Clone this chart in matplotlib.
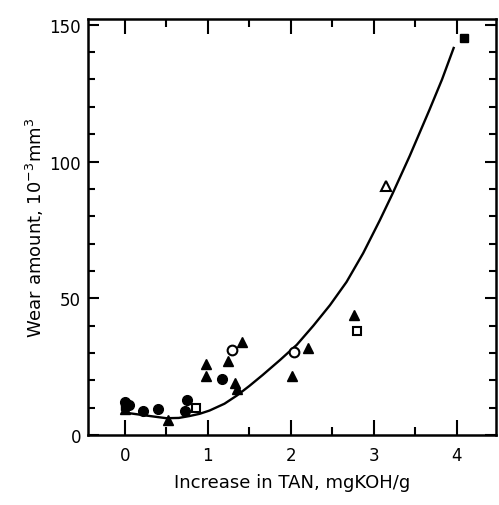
import matplotlib
matplotlib.use("Agg")
import matplotlib.pyplot as plt
from matplotlib.ticker import MultipleLocator

# data (x = increase in TAN, y = wear amount)
filled_circle_x = [0.0, 0.05, 0.22, 0.40, 0.72, 0.75, 1.17]
filled_circle_y = [12.0, 11.0, 9.0, 9.5, 9.0, 13.0, 20.5]

filled_tri_x = [0.0, 0.52, 0.98, 0.98, 1.24, 1.41, 1.33, 1.35, 2.01, 2.20, 2.76]
filled_tri_y = [9.5, 5.5, 26.0, 21.5, 27.0, 34.0, 19.0, 17.0, 21.5, 31.7, 44.0]

open_circle_x = [1.29, 2.04]
open_circle_y = [31.0, 30.5]

open_square_x = [0.86, 2.80]
open_square_y = [10.0, 38.0]

open_tri_x = [3.15]
open_tri_y = [91.0]

filled_square_x = [0.0, 4.08]
filled_square_y = [10.5, 145.0]

# fitted curve
curve_x = [0.06, 0.30, 0.50, 0.65, 0.78, 0.90, 1.02, 1.20, 1.35, 1.50, 1.66,
           1.87, 2.07, 2.27, 2.47, 2.67, 2.87, 3.07, 3.22, 3.43, 3.67, 3.82, 3.96]
curve_y = [8.0, 7.0, 6.2, 6.3, 7.0, 7.8, 9.0, 11.5, 14.5, 18.0, 22.0,
           27.5, 33.0, 40.0, 47.5, 56.0, 66.5, 78.5, 88.0, 102.0, 119.0, 130.0, 141.5]

fig = plt.figure(figsize=(4.99, 5.06), dpi=100)
ax = fig.add_axes([0.176, 0.138, 0.818, 0.822])

ax.plot(curve_x, curve_y, color='black', lw=1.7)

ms = 7
ax.plot(filled_circle_x, filled_circle_y, 'o', color='black', ms=ms)
ax.plot(filled_tri_x, filled_tri_y, '^', color='black', ms=ms)
ax.plot(open_circle_x, open_circle_y, 'o', mfc='white', mec='black', mew=1.5, ms=ms)
ax.plot(open_square_x, open_square_y, 's', mfc='white', mec='black', mew=1.5, ms=6)
ax.plot(open_tri_x, open_tri_y, '^', mfc='white', mec='black', mew=1.5, ms=ms)
ax.plot(filled_square_x, filled_square_y, 's', color='black', ms=6)

ax.set_xlim(-0.446, 4.47)
ax.set_ylim(0, 152)

ax.xaxis.set_major_locator(MultipleLocator(1))
ax.xaxis.set_minor_locator(MultipleLocator(0.5))
ax.yaxis.set_major_locator(MultipleLocator(50))
ax.yaxis.set_minor_locator(MultipleLocator(10))

ax.tick_params(which='both', direction='in', top=True, right=True, width=1.5,
               labelsize=12, colors='black')
ax.tick_params(axis='x', which='major', length=11, pad=8)
ax.tick_params(axis='x', which='minor', length=6)
ax.tick_params(axis='y', which='major', length=8, pad=5)
ax.tick_params(axis='y', which='minor', length=5)

for s in ax.spines.values():
    s.set_linewidth(1.8)

ax.set_xlabel('Increase in TAN, mgKOH/g', fontsize=13, labelpad=6)
ax.set_ylabel('Wear amount, 10$^{-3}$mm$^3$', fontsize=13, labelpad=2)

fig.savefig('out.png', dpi=100)
